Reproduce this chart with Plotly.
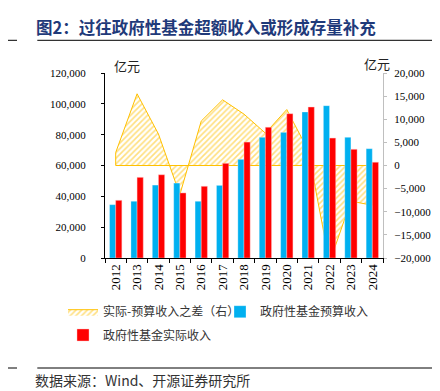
import plotly.graph_objects as go

years = ["2012", "2013", "2014", "2015", "2016", "2017", "2018",
         "2019", "2020", "2021", "2022", "2023", "2024"]
budget = [34600, 36800, 47300, 48600, 36800, 47100, 64000,
          78300, 81500, 94700, 98800, 78300, 70900]
actual = [37400, 52300, 54000, 42200, 46500, 61400, 75200,
          84800, 93600, 97900, 77800, 70500, 62100]
diff = [2800, 15500, 6800, -6300, 9600, 14200, 11100,
        7000, 12100, 3300, -21000, -7700, -8600]

name_diff = "实际-预算收入之差（右）"
name_budget = "政府性基金预算收入"
name_actual = "政府性基金实际收入"

L, R, T, B = 97, 65, 65, 141
W, H = 440, 391
PW, PH = W - L - R, H - T - B

def px(x):
    return (x - L) / PW

def py(y):
    return (H - B - y) / PH

serif = "'Liberation Serif', 'Times New Roman', 'DejaVu Serif', serif"
cjk = "Noto Sans CJK SC"

fig = go.Figure()

# closed outline of the difference area (data line + zero baseline)
poly_x = years + [years[-1], years[0], years[0]]
poly_y = diff + [0, 0, diff[0]]
fig.add_trace(go.Scatter(
    x=poly_x, y=poly_y, name=name_diff, mode="lines",
    fill="toself", fillcolor="rgba(0,0,0,0)",
    fillpattern=dict(shape="/", fgcolor="#FFC000", bgcolor="rgba(255,255,255,0)",
                     size=4, solidity=0.4),
    line=dict(color="#FFC000", width=1),
    yaxis="y", legend="legend", hoverinfo="skip",
))
fig.add_trace(go.Bar(
    x=years, y=budget, name=name_budget, yaxis="y2",
    marker=dict(color="#00B0F0", line=dict(color="rgba(255,255,255,0.5)", width=0.6)),
    legend="legend",
))
fig.add_trace(go.Bar(
    x=years, y=actual, name=name_actual, yaxis="y2",
    marker=dict(color="#FF0000", line=dict(color="rgba(255,200,200,0.7)", width=0.6)),
    legend="legend2",
))

fig.update_layout(
    width=W, height=H,
    margin=dict(l=L, r=R, t=T, b=B, pad=0),
    paper_bgcolor="white", plot_bgcolor="white",
    barmode="group", bargap=0.425, bargroupgap=0,
    font=dict(family=serif, size=11, color="#000"),
    xaxis=dict(
        type="category", showgrid=False, showline=True, linecolor="#000", linewidth=1,
        ticks="outside", tickson="boundaries", ticklen=4, tickcolor="#000",
        tickangle=-90, tickfont=dict(family=serif, size=13, color="#000"),
    ),
    yaxis=dict(
        side="right", range=[-20000, 20000], dtick=5000, tickformat=",",
        showgrid=False, zeroline=False, showline=True, linecolor="#BFBFBF", linewidth=1,
        ticks="outside", ticklen=3, tickcolor="#BFBFBF",
        tickfont=dict(family=serif, size=11, color="#000"), ticklabelstandoff=5,
    ),
    yaxis2=dict(
        side="left", overlaying="y", range=[0, 120000], dtick=20000, tickformat=",",
        showgrid=False, zeroline=False, showline=True, linecolor="#000", linewidth=1,
        ticks="outside", ticklen=3, tickcolor="#000",
        tickfont=dict(family=serif, size=11, color="#000"), ticklabelstandoff=13,
    ),
    legend=dict(
        orientation="h", x=px(55), y=py(303.7), xanchor="left", yanchor="middle",
        font=dict(family=cjk, size=12, color="#333"), bgcolor="rgba(0,0,0,0)",
        entrywidth=112, entrywidthmode="pixels", itemwidth=30,
    ),
    legend2=dict(
        orientation="h", x=px(55), y=py(327), xanchor="left", yanchor="middle",
        font=dict(family=cjk, size=12, color="#333"), bgcolor="rgba(0,0,0,0)",
        itemwidth=30,
    ),
    showlegend=True,
)

annotations = [
    dict(text="<b>图2：过往政府性基金超额收入或形成存量补充</b>", x=px(26), y=py(19),
         xanchor="left", yanchor="middle", showarrow=False,
         font=dict(family=cjk, size=16.5, color="#1F3A7A")),
    dict(text="数据来源：Wind、开源证券研究所", x=px(25), y=py(372),
         xanchor="left", yanchor="middle", showarrow=False,
         font=dict(family=cjk, size=14, color="#333")),
    dict(text="亿元", x=px(104), y=py(58), xanchor="left", yanchor="middle",
         showarrow=False, font=dict(family=cjk, size=13, color="#222")),
    dict(text="亿元", x=px(354), y=py(55), xanchor="left", yanchor="middle",
         showarrow=False, font=dict(family=cjk, size=13, color="#222")),
]
for a in annotations:
    a.update(xref="paper", yref="paper")
fig.update_layout(annotations=annotations)

shapes = []
for yy in (32.3, 360):
    for x0, x1 in ((0, 9), (29.3, 440)):
        shapes.append(dict(type="line", xref="paper", yref="paper",
                           x0=px(x0), x1=px(x1), y0=py(yy), y1=py(yy),
                           line=dict(color="#000", width=1)))
fig.update_layout(shapes=shapes)

fig.write_html("out.html")
